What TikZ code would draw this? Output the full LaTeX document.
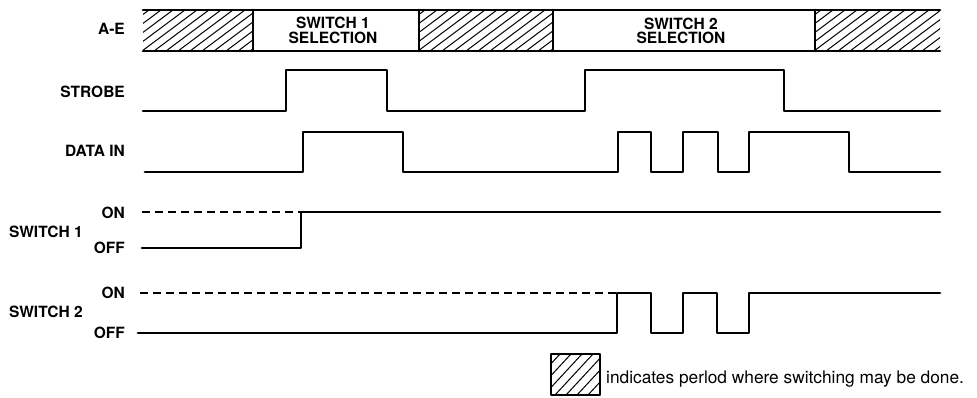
\documentclass[tikz,border=0pt]{standalone}
\usepackage{fontspec}
\setmainfont{TeX Gyre Heros}
\begin{document}
\begin{tikzpicture}[x=1pt,y=-1pt,
  lbl/.style={font=\fontsize{15.5}{15.5}\selectfont\bfseries, inner sep=0pt},
  boxtxt/.style={font=\fontsize{15.5}{14.5}\selectfont\bfseries, inner sep=0pt, align=center},
  sig/.style={line width=2.8pt, line join=round, line cap=round},
  barline/.style={line width=2.8pt, line cap=round},
  dashline/.style={line width=1.2pt, dash pattern=on 8pt off 5pt},
  hatchline/.style={line width=1pt}]
\useasboundingbox (0,0) rectangle (977,398);

% ---- A-E bar ----
\begin{scope}
  \clip (143,10) rectangle (253,51) (419,10) rectangle (553,51) (815,10) rectangle (940,51);
  \foreach \x in {70,82,...,950} \draw[hatchline] (\x,51) -- ++(55,-41);
\end{scope}
\draw[barline] (143,10) -- (940,10);
\draw[barline] (143,51) -- (940,51);
\draw[barline] (253,10) -- (253,51);
\draw[barline] (419,10) -- (419,51);
\draw[barline] (553,10) -- (553,51);
\draw[barline] (815,10) -- (815,51);
\node[boxtxt] (sel1) at (333,30.5) {SWITCH 1\\SELECTION};
\node[boxtxt] (sel2) at (681,31) {SWITCH 2\\SELECTION};

% ---- labels ----
\node[lbl, anchor=east] (lae) at (125,29) {A-E};
\node[lbl, anchor=east] (lstrobe) at (125,92) {STROBE};
\node[lbl, anchor=east] (ldata) at (125,151) {DATA IN};
\node[lbl, anchor=east] (lon1) at (125,212.5) {ON};
\node[lbl, anchor=east] (lsw1) at (83,231.5) {SWITCH 1};
\node[lbl, anchor=east] (loff1) at (125,248) {OFF};
\node[lbl, anchor=east] (lon2) at (125,292.5) {ON};
\node[lbl, anchor=east] (lsw2) at (83,311.5) {SWITCH 2};
\node[lbl, anchor=east] (loff2) at (125,332.5) {OFF};

% ---- STROBE ----
\draw[sig] (143,111) -- (286,111) -- (286,70) -- (387,70) -- (387,111)
  -- (585,111) -- (585,70) -- (784,70) -- (784,111) -- (940,111);

% ---- DATA IN ----
\draw[sig] (145,172) -- (303,172) -- (303,132) -- (403,132) -- (403,172)
  -- (618,172) -- (618,132) -- (651,132) -- (651,172)
  -- (683,172) -- (683,132) -- (718,132) -- (718,172)
  -- (749,172) -- (749,132) -- (849,132) -- (849,172) -- (940,172);

% ---- SWITCH 1 ----
\draw[dashline] (142,212) -- (301,212);
\draw[sig] (142,248) -- (301,248) -- (301,212) -- (940,212);

% ---- SWITCH 2 ----
\draw[dashline] (140,293) -- (617,293);
\draw[sig] (138,333) -- (617,333) -- (617,293) -- (651,293) -- (651,333)
  -- (683,333) -- (683,293) -- (717,293) -- (717,333)
  -- (749,333) -- (749,293) -- (940,293);

% ---- legend ----
\begin{scope}
  \clip (551,354) rectangle (600,395);
  \foreach \x in {500,511,...,610} \draw[hatchline] (\x,395) -- ++(38,-41);
\end{scope}
\draw[line width=2.5pt, line join=round] (551,354) rectangle (600,395);
\node[anchor=base west, inner sep=0pt, font=\fontsize{17.3}{17.3}\selectfont] (note) at (606,383)
  {indicates perlod where switching may be done.};
\end{tikzpicture}
\end{document}
